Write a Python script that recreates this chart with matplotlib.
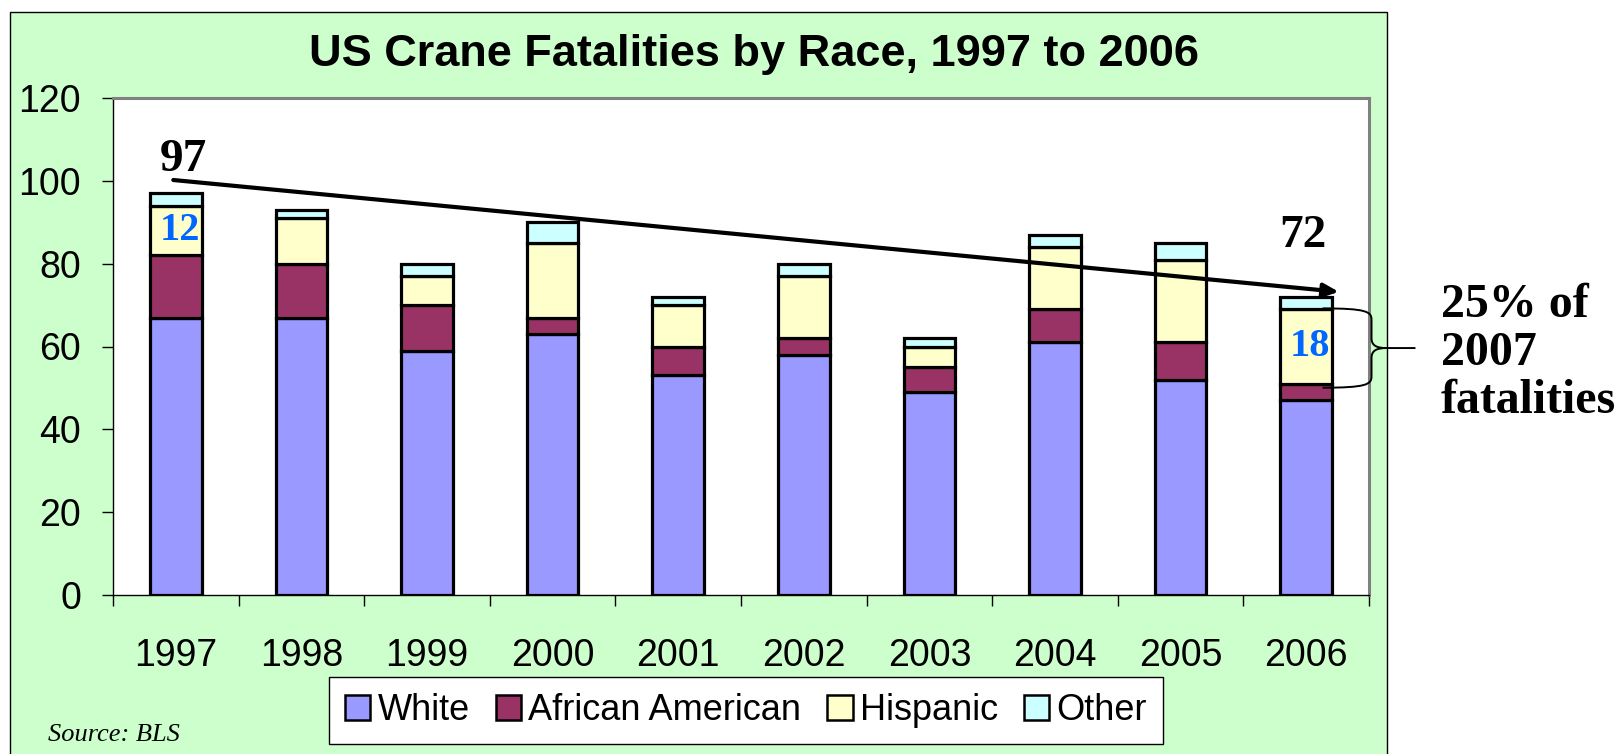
import matplotlib
matplotlib.use("Agg")
import matplotlib.pyplot as plt
import numpy as np
from matplotlib.patches import Rectangle, PathPatch
from matplotlib.path import Path

years = ["1997", "1998", "1999", "2000", "2001", "2002", "2003", "2004", "2005", "2006"]
white = [67, 67, 59, 63, 53, 58, 49, 61, 52, 47]
african_american = [15, 13, 11, 4, 7, 4, 6, 8, 9, 4]
hispanic = [12, 11, 7, 18, 10, 15, 5, 15, 20, 18]
other = [3, 2, 3, 5, 2, 3, 2, 3, 4, 3]

series = [("White", white, "#9999FF"),
          ("African American", african_american, "#993366"),
          ("Hispanic", hispanic, "#FFFFCC"),
          ("Other", other, "#CCFFFF")]

sans = "Liberation Sans"
serif = "Liberation Serif"

fig = plt.figure(figsize=(16.19, 7.54), dpi=100)
fig.patch.set_facecolor("white")

# green chart area
fig.patches.append(Rectangle((10 / 1619, -0.02), 1377 / 1619, 0.02 + 742 / 754,
                             transform=fig.transFigure, facecolor="#CCFFCC",
                             edgecolor="black", linewidth=1, zorder=-5))

ax = fig.add_axes([113 / 1619, 159 / 754, 1256 / 1619, 497 / 754])
ax.set_facecolor("white")

x = np.arange(len(years))
bottom = np.zeros(len(years))
for name, vals, col in series:
    ax.bar(x, vals, width=0.41, bottom=bottom, color=col, edgecolor="black",
           linewidth=2.3, label=name, zorder=3)
    bottom += np.array(vals)
totals = bottom

ax.set_xlim(-0.5, len(years) - 0.5)
ax.set_ylim(0, 120)
ax.set_yticks(range(0, 121, 20))
ax.set_xticks(x)
ax.set_xticklabels(years)
ax.set_xticks(np.arange(-0.5, len(years), 1.0), minor=True)
ax.tick_params(axis="x", which="major", length=0, pad=31, labelsize=27)
ax.tick_params(axis="x", which="minor", length=8, width=1, direction="out")
ax.tick_params(axis="y", length=8, width=1, direction="out", pad=15, labelsize=27)
for lab in ax.get_xticklabels() + ax.get_yticklabels():
    lab.set_fontfamily(sans)

for side in ["top", "right"]:
    ax.spines[side].set_color("#808080")
    ax.spines[side].set_linewidth(2.2)
ax.spines["left"].set_linewidth(1)
ax.spines["bottom"].set_linewidth(1)

fig.text(0.4657, 0.928, "US Crane Fatalities by Race, 1997 to 2006", ha="center",
         va="center", fontsize=32.5, fontweight="bold", family=sans)

# totals and arrow
ax.text(0.06, totals[0] + 8, f"{int(totals[0])}", ha="center", va="center",
        fontsize=34, fontweight="bold", family=serif)
ax.text(8.97, totals[-1] + 14.7, f"{int(totals[-1])}", ha="center", va="center",
        fontsize=34, fontweight="bold", family=serif)
ax.annotate("", xy=(9.26, 73.2), xytext=(-0.02, 100.2),
            arrowprops=dict(arrowstyle="-|>,head_length=0.9,head_width=0.4",
                            color="black", lw=3, shrinkA=0, shrinkB=0),
            annotation_clip=False, zorder=5)

# hispanic labels
for i in [0, len(years) - 1]:
    mid = white[i] + african_american[i] + hispanic[i] / 2
    ax.text(i + 0.03, mid, str(hispanic[i]), ha="center", va="center",
            fontsize=29, fontweight="bold", family=serif, color="#0066FF", zorder=6)

# brace next to 2006 hispanic segment
top = white[-1] + african_american[-1] + hispanic[-1] + 0.2
low = white[-1] + african_american[-1] - 0.95
mid = (top + low) / 2
verts = [(9.13, top), (9.48, top), (9.52, top - 0.8), (9.52, top - 2.7),
         (9.52, mid + 2.4), (9.52, mid + 0.6), (9.56, mid), (9.64, mid),
         (9.87, mid),
         (9.64, mid), (9.56, mid), (9.52, mid - 0.6), (9.52, mid - 2.4),
         (9.52, low + 2.7), (9.52, low + 0.8), (9.48, low), (9.13, low)]
codes = [Path.MOVETO, Path.CURVE4, Path.CURVE4, Path.CURVE4,
         Path.LINETO, Path.CURVE4, Path.CURVE4, Path.CURVE4,
         Path.LINETO,
         Path.MOVETO, Path.CURVE4, Path.CURVE4, Path.CURVE4,
         Path.LINETO, Path.CURVE4, Path.CURVE4, Path.CURVE4]
ax.add_patch(PathPatch(Path(verts, codes), facecolor="none", edgecolor="black",
                       linewidth=1.4, clip_on=False, zorder=6))
ax.text(10.07, 58.4, "25% of\n2007\nfatalities", ha="left", va="center",
        fontsize=34.5, fontweight="bold", family=serif, linespacing=1.12)

leg = ax.legend(loc="center", bbox_to_anchor=(0.4608, 0.0577),
                bbox_transform=fig.transFigure, ncol=4, frameon=True,
                prop={"family": sans, "size": 26}, handlelength=0.7,
                handleheight=0.7, handletextpad=0.2, columnspacing=0.72,
                borderpad=0.45, fancybox=False, framealpha=1)
leg.get_frame().set_edgecolor("black")
leg.get_frame().set_linewidth(1)
for h in leg.legend_handles:
    h.set_linewidth(1.8)

fig.text(48 / 1619, 0.0252, "Source: BLS", ha="left", va="center", fontsize=19,
         style="italic", family=serif)

fig.savefig("out.png", dpi=100)
